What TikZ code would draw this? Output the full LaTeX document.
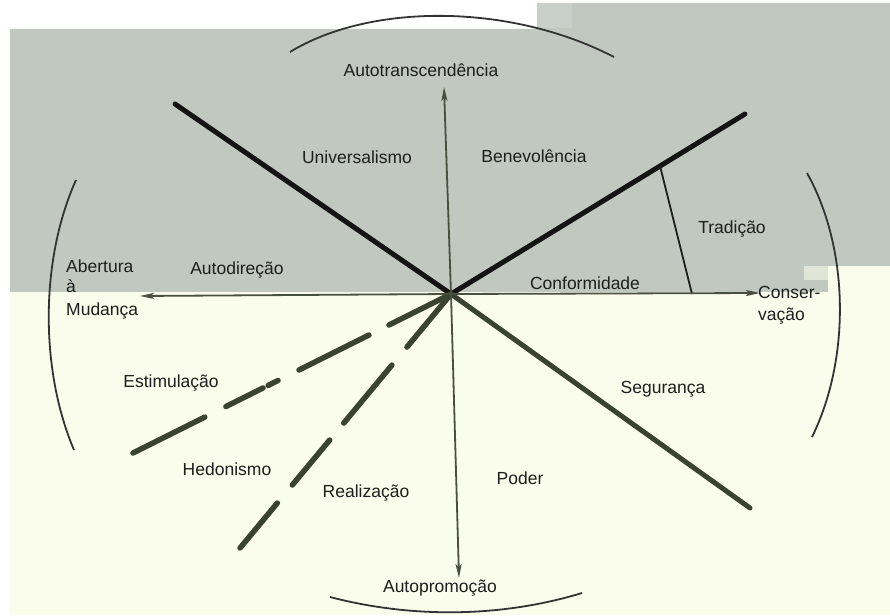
\documentclass[tikz,border=0pt]{standalone}
\usepackage{fontspec}
\setmainfont{Liberation Sans}
\usetikzlibrary{arrows.meta,calc}
\definecolor{bggray}{RGB}{192,200,192}
\definecolor{bgyel}{RGB}{250,253,235}
\definecolor{olivec}{RGB}{58,66,48}
\definecolor{axisc}{RGB}{72,80,64}
\definecolor{txtc}{RGB}{30,30,30}
\begin{document}
\begin{tikzpicture}[x=1pt,y=-1pt,
  lbl/.style={font=\fontsize{17.5}{21}\selectfont, text=txtc, inner sep=0pt, anchor=base},
  lbll/.style={lbl, anchor=base west},
  thickblack/.style={line width=5pt, color=black!92, line cap=round},
  thickolive/.style={line width=5pt, color=olivec, line cap=round},
  dashseg/.style={line width=5.5pt, color=olivec, line cap=round},
  axis/.style={line width=1.8pt, color=axisc, -{Stealth[length=14pt,width=6pt,inset=3pt]}},
  arcline/.style={line width=1.8pt, color=black!80},
  thinline/.style={line width=1.8pt, color=black!88}]
\useasboundingbox (0,0) rectangle (890,615);
\fill[white] (0,0) rectangle (890,615);
% backgrounds
\fill[bggray] (10,29) -- (537,29) -- (537,3) -- (890,3) -- (890,266) -- (828,266) -- (828,292) -- (10,292) -- cycle;
\fill[bgyel] (10,292) -- (828,292) -- (828,266) -- (890,266) -- (890,615) -- (10,615) -- cycle;
\fill[bggray!85!white] (537,3) rectangle (572,28);
\fill[bgyel!55!bggray] (804,266) rectangle (828,280);

% coordinates
\coordinate (C) at (451,294);
\coordinate (T) at (444,87);
\coordinate (B) at (459,578);
\coordinate (L) at (140,296);
\coordinate (R) at (760,293);
\coordinate (UL) at (175,104);
\coordinate (UR) at (745,114);
\coordinate (LR) at (750,508);
\coordinate (E1) at (133,453);
\coordinate (E2) at (240,548);
\coordinate (TR) at ($(C)!0.711!(UR)$);
\coordinate (TRb) at (692,294);

% arcs
\draw[arcline] (290,52) .. controls (370,3) and (510,3) .. (614,57);
\draw[arcline] (330,597) .. controls (410,618) and (500,618) .. (582,593);
\draw[arcline] (76,180) .. controls (40,260) and (40,370) .. (74,450);
\draw[arcline] (807,173) .. controls (850,250) and (850,360) .. (812,437);

% thick lines
\draw[thickblack] (C) -- (UL);
\draw[thickblack] (C) -- (UR);
\draw[thickolive] (C) -- (LR);
\draw[thinline] (TR) -- (TRb);

% dashed lines
\draw[dashseg] (C) -- ($(C)!0.195!(E1)$);
\draw[dashseg] ($(C)!0.258!(E1)$) -- ($(C)!0.478!(E1)$);
\draw[dashseg] ($(C)!0.544!(E1)$) -- ($(C)!0.575!(E1)$);
\draw[dashseg] ($(C)!0.591!(E1)$) -- ($(C)!0.708!(E1)$);
\draw[dashseg] ($(C)!0.774!(E1)$) -- (E1);
\draw[dashseg] (C) -- ($(C)!0.209!(E2)$);
\draw[dashseg] ($(C)!0.280!(E2)$) -- ($(C)!0.508!(E2)$);
\draw[dashseg] ($(C)!0.575!(E2)$) -- ($(C)!0.752!(E2)$);
\draw[dashseg] ($(C)!0.823!(E2)$) -- (E2);

% axes
\draw[axis] (C) -- (T);
\draw[axis] (C) -- (B);
\draw[axis] (C) -- (L);
\draw[axis] (C) -- (R);

% labels
\node[lbl] (autotr) at (421,77) {Autotranscendência};
\node[lbl] (univ) at (357,163) {Universalismo};
\node[lbl] (bene) at (534,162) {Benevolência};
\node[lbl] (trad) at (732,233) {Tradição};
\node[lbll] (ab1) at (66,272) {Abertura};
\node[lbll] (ab2) at (66,292) {à};
\node[lbll] (ab3) at (66,315) {Mudança};
\node[lbl] (autod) at (237,274) {Autodireção};
\node[lbl] (conf) at (585,289) {Conformidade};
\node[lbll] (cons1) at (758,298) {Conser-};
\node[lbll] (cons2) at (758,320) {vação};
\node[lbl] (estim) at (171,387) {Estimulação};
\node[lbl] (segur) at (663,393) {Segurança};
\node[lbl] (hedon) at (227,475) {Hedonismo};
\node[lbl] (realiz) at (366,497) {Realização};
\node[lbl] (poder) at (520,484) {Poder};
\node[lbl] (autopr) at (440,592) {Autopromoção};
\end{tikzpicture}
\end{document}
